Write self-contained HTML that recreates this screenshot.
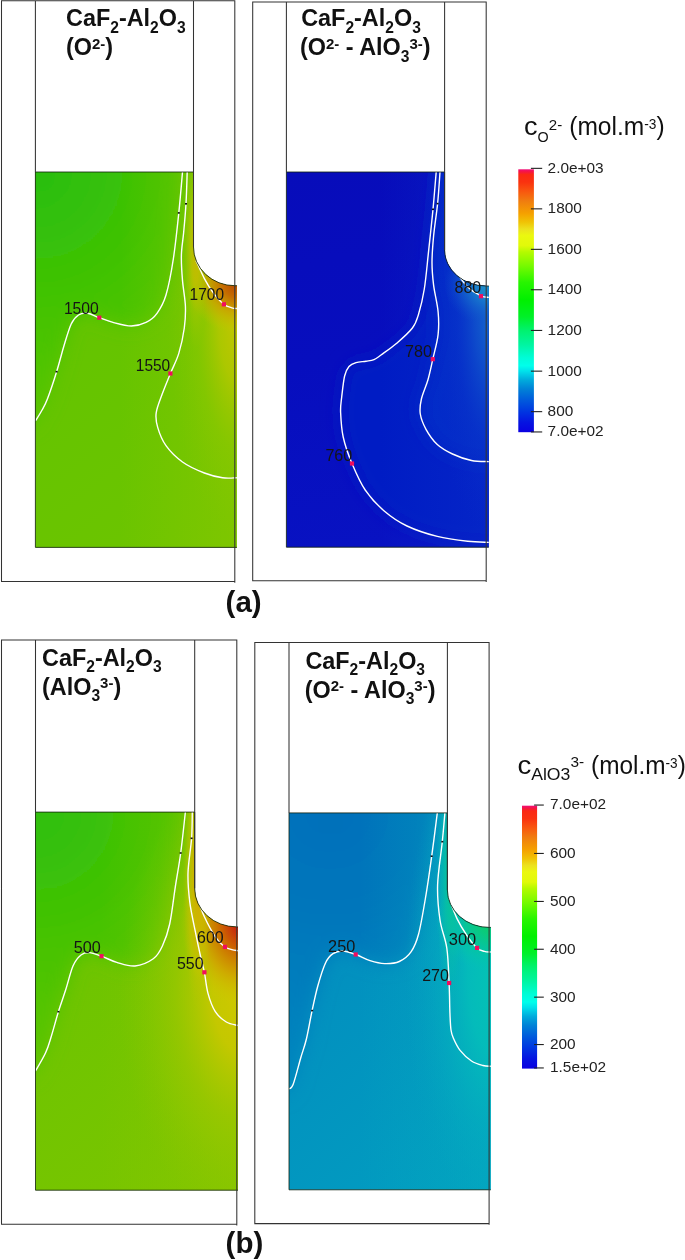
<!DOCTYPE html>
<html><head><meta charset="utf-8"><title>Figure</title>
<style>
html,body{margin:0;padding:0;background:#fff;}
body{width:685px;height:1260px;overflow:hidden;}
svg{display:block;}
text{font-family:"Liberation Sans",sans-serif;}
.tt{font-size:23.4px;font-weight:bold;fill:#111;}
.ab{font-size:29.5px;font-weight:bold;fill:#111;}
.lb{font-size:17px;fill:#151515;}
.cl{font-size:15.4px;fill:#222;}
.ct{font-size:26px;fill:#111;}
</style></head><body>
<svg width="685" height="1260" viewBox="0 0 685 1260">
<defs>
<filter id="bl" x="-30%" y="-30%" width="160%" height="160%"><feGaussianBlur stdDeviation="9"/></filter>
<linearGradient id="a1" gradientUnits="userSpaceOnUse" x1="35.0" y1="300.0" x2="237.0" y2="547.0"><stop offset="0.000" stop-color="#62c400"/><stop offset="1.000" stop-color="#6ec400"/></linearGradient>
<radialGradient id="q1" gradientUnits="userSpaceOnUse" cx="0" cy="0" r="1" gradientTransform="translate(35.0,172.0) scale(300.0,300.0)"><stop offset="0.000" stop-color="#28be12"/><stop offset="0.330" stop-color="#3cc205"/><stop offset="0.660" stop-color="#50c400"/><stop offset="1.000" stop-color="#5cc400"/></radialGradient>
<linearGradient id="c1" gradientUnits="userSpaceOnUse" x1="120.0" y1="0.0" x2="237.0" y2="0.0"><stop offset="0.000" stop-color="#8cc800" stop-opacity="0.00"/><stop offset="1.000" stop-color="#8cc800" stop-opacity="0.55"/></linearGradient>
<radialGradient id="d1" gradientUnits="userSpaceOnUse" cx="0" cy="0" r="1" gradientTransform="translate(240.0,316.0) scale(72.0,225.0)"><stop offset="0.000" stop-color="#cbc600" stop-opacity="0.95"/><stop offset="0.300" stop-color="#bac800" stop-opacity="0.78"/><stop offset="0.600" stop-color="#96c800" stop-opacity="0.38"/><stop offset="1.000" stop-color="#82c600" stop-opacity="0.00"/></radialGradient>
<radialGradient id="e1" gradientUnits="userSpaceOnUse" cx="0" cy="0" r="1" gradientTransform="translate(238.0,283.0) scale(52.0,50.0)"><stop offset="0.000" stop-color="#b64000" stop-opacity="1.00"/><stop offset="0.300" stop-color="#c66900" stop-opacity="0.96"/><stop offset="0.600" stop-color="#cda000" stop-opacity="0.75"/><stop offset="1.000" stop-color="#cdc300" stop-opacity="0.00"/></radialGradient>
<radialGradient id="f1" gradientUnits="userSpaceOnUse" cx="0" cy="0" r="1" gradientTransform="translate(195.5,246.0) scale(13.0,105.0)"><stop offset="0.000" stop-color="#ceb400" stop-opacity="0.95"/><stop offset="0.350" stop-color="#c8c000" stop-opacity="0.70"/><stop offset="0.700" stop-color="#b4c600" stop-opacity="0.30"/><stop offset="1.000" stop-color="#a0c600" stop-opacity="0.00"/></radialGradient>
<linearGradient id="a2" gradientUnits="userSpaceOnUse" x1="286.0" y1="172.0" x2="360.0" y2="547.0"><stop offset="0.000" stop-color="#070cba"/><stop offset="0.500" stop-color="#070ebe"/><stop offset="1.000" stop-color="#0812c2"/></linearGradient>
<linearGradient id="c2" gradientUnits="userSpaceOnUse" x1="380.0" y1="0.0" x2="489.0" y2="0.0"><stop offset="0.000" stop-color="#0a2eca" stop-opacity="0.00"/><stop offset="1.000" stop-color="#0a2eca" stop-opacity="0.50"/></linearGradient>
<radialGradient id="d2" gradientUnits="userSpaceOnUse" cx="0" cy="0" r="1" gradientTransform="translate(492.0,310.0) scale(60.0,230.0)"><stop offset="0.000" stop-color="#166ecd" stop-opacity="1.00"/><stop offset="0.300" stop-color="#1052cc" stop-opacity="0.80"/><stop offset="0.600" stop-color="#0a38ca" stop-opacity="0.40"/><stop offset="1.000" stop-color="#0628c8" stop-opacity="0.00"/></radialGradient>
<radialGradient id="e2" gradientUnits="userSpaceOnUse" cx="0" cy="0" r="1" gradientTransform="translate(490.0,284.0) scale(46.0,42.0)"><stop offset="0.000" stop-color="#1e96c8" stop-opacity="1.00"/><stop offset="0.350" stop-color="#1a82cd" stop-opacity="0.90"/><stop offset="0.650" stop-color="#1464cd" stop-opacity="0.60"/><stop offset="1.000" stop-color="#0e4ccc" stop-opacity="0.00"/></radialGradient>
<linearGradient id="a3" gradientUnits="userSpaceOnUse" x1="35.0" y1="960.0" x2="237.0" y2="1190.0"><stop offset="0.000" stop-color="#6cc400"/><stop offset="1.000" stop-color="#7cc500"/></linearGradient>
<radialGradient id="q3" gradientUnits="userSpaceOnUse" cx="0" cy="0" r="1" gradientTransform="translate(35.0,812.0) scale(300.0,300.0)"><stop offset="0.000" stop-color="#2ebf10"/><stop offset="0.330" stop-color="#40c204"/><stop offset="0.660" stop-color="#54c400"/><stop offset="1.000" stop-color="#62c400"/></radialGradient>
<linearGradient id="c3" gradientUnits="userSpaceOnUse" x1="100.0" y1="0.0" x2="238.0" y2="0.0"><stop offset="0.000" stop-color="#96c700" stop-opacity="0.00"/><stop offset="1.000" stop-color="#96c700" stop-opacity="0.40"/></linearGradient>
<radialGradient id="d3" gradientUnits="userSpaceOnUse" cx="0" cy="0" r="1" gradientTransform="translate(244.0,995.0) scale(125.0,230.0)"><stop offset="0.000" stop-color="#d0c800" stop-opacity="1.00"/><stop offset="0.250" stop-color="#cac800" stop-opacity="0.92"/><stop offset="0.550" stop-color="#acc800" stop-opacity="0.50"/><stop offset="1.000" stop-color="#8cc600" stop-opacity="0.00"/></radialGradient>
<radialGradient id="e3" gradientUnits="userSpaceOnUse" cx="0" cy="0" r="1" gradientTransform="translate(241.0,921.0) scale(60.0,85.0)"><stop offset="0.000" stop-color="#c8102c" stop-opacity="1.00"/><stop offset="0.120" stop-color="#c8280c" stop-opacity="1.00"/><stop offset="0.350" stop-color="#cd6400" stop-opacity="0.97"/><stop offset="0.650" stop-color="#d0a000" stop-opacity="0.80"/><stop offset="1.000" stop-color="#d0c800" stop-opacity="0.00"/></radialGradient>
<radialGradient id="f3" gradientUnits="userSpaceOnUse" cx="0" cy="0" r="1" gradientTransform="translate(198.0,872.0) scale(15.0,140.0)"><stop offset="0.000" stop-color="#d2a000" stop-opacity="0.98"/><stop offset="0.350" stop-color="#d0b600" stop-opacity="0.85"/><stop offset="0.700" stop-color="#c6c400" stop-opacity="0.45"/><stop offset="1.000" stop-color="#b4c600" stop-opacity="0.00"/></radialGradient>
<linearGradient id="a4" gradientUnits="userSpaceOnUse" x1="289.0" y1="960.0" x2="491.0" y2="1190.0"><stop offset="0.000" stop-color="#028ebf"/><stop offset="1.000" stop-color="#029ec0"/></linearGradient>
<radialGradient id="q4" gradientUnits="userSpaceOnUse" cx="0" cy="0" r="1" gradientTransform="translate(330.0,813.0) scale(300.0,300.0)"><stop offset="0.000" stop-color="#0570ba"/><stop offset="0.330" stop-color="#0576bb"/><stop offset="0.660" stop-color="#0480bd"/><stop offset="1.000" stop-color="#0388be"/></radialGradient>
<linearGradient id="c4" gradientUnits="userSpaceOnUse" x1="360.0" y1="0.0" x2="491.0" y2="0.0"><stop offset="0.000" stop-color="#04acbe" stop-opacity="0.00"/><stop offset="1.000" stop-color="#04acbe" stop-opacity="0.50"/></linearGradient>
<radialGradient id="d4" gradientUnits="userSpaceOnUse" cx="0" cy="0" r="1" gradientTransform="translate(495.0,975.0) scale(90.0,260.0)"><stop offset="0.000" stop-color="#04c4b4" stop-opacity="1.00"/><stop offset="0.300" stop-color="#04beba" stop-opacity="0.90"/><stop offset="0.600" stop-color="#04b0be" stop-opacity="0.50"/><stop offset="1.000" stop-color="#04a0c0" stop-opacity="0.00"/></radialGradient>
<radialGradient id="e4" gradientUnits="userSpaceOnUse" cx="0" cy="0" r="1" gradientTransform="translate(494.0,922.0) scale(58.0,50.0)"><stop offset="0.000" stop-color="#0ecc64" stop-opacity="1.00"/><stop offset="0.250" stop-color="#0aca7a" stop-opacity="1.00"/><stop offset="0.500" stop-color="#06c696" stop-opacity="0.92"/><stop offset="0.750" stop-color="#04c4aa" stop-opacity="0.60"/><stop offset="1.000" stop-color="#04c2b4" stop-opacity="0.00"/></radialGradient>
<radialGradient id="f4" gradientUnits="userSpaceOnUse" cx="0" cy="0" r="1" gradientTransform="translate(451.0,872.0) scale(15.0,140.0)"><stop offset="0.000" stop-color="#0ac68c" stop-opacity="0.98"/><stop offset="0.350" stop-color="#06c2a0" stop-opacity="0.85"/><stop offset="0.700" stop-color="#05bcae" stop-opacity="0.45"/><stop offset="1.000" stop-color="#05b0ba" stop-opacity="0.00"/></radialGradient>
<linearGradient id="cb" x1="0" y1="1" x2="0" y2="0"><stop offset="0.000" stop-color="#0a00e1"/><stop offset="0.038" stop-color="#0514e1"/><stop offset="0.080" stop-color="#0037e1"/><stop offset="0.122" stop-color="#005adc"/><stop offset="0.165" stop-color="#0082d7"/><stop offset="0.198" stop-color="#00aadc"/><stop offset="0.232" stop-color="#00e1eb"/><stop offset="0.253" stop-color="#00ffeb"/><stop offset="0.283" stop-color="#00fcd7"/><stop offset="0.334" stop-color="#00f5a0"/><stop offset="0.387" stop-color="#00f26e"/><stop offset="0.439" stop-color="#00f028"/><stop offset="0.503" stop-color="#00f000"/><stop offset="0.570" stop-color="#28f500"/><stop offset="0.634" stop-color="#78fa00"/><stop offset="0.685" stop-color="#b4fa00"/><stop offset="0.710" stop-color="#e1fa0a"/><stop offset="0.748" stop-color="#ebf80f"/><stop offset="0.773" stop-color="#ece11e"/><stop offset="0.799" stop-color="#f0c305"/><stop offset="0.833" stop-color="#f5a000"/><stop offset="0.879" stop-color="#f07d0f"/><stop offset="0.913" stop-color="#f85a0f"/><stop offset="0.951" stop-color="#fa320f"/><stop offset="0.980" stop-color="#fa2814"/><stop offset="0.991" stop-color="#f51446"/><stop offset="1.000" stop-color="#f00f78"/></linearGradient>
</defs>
<rect width="685" height="1260" fill="#fff"/>
<clipPath id="cp1"><path d="M35.4,172.0 L193.5,172.0 L193.5,247.0 A41.3,38.7 0 0 0 234.8,285.7 L236.9,285.7 L236.9,547.4 L35.4,547.4 Z"/></clipPath>
<g clip-path="url(#cp1)">
<rect x="-20.0" y="120.0" width="320.0" height="480.0" fill="url(#a1)"/>
<path d="M182.5,172.0 C181.9,178.8 180.3,198.5 178.8,212.9 C177.3,227.3 175.5,244.8 173.4,258.5 C171.3,272.2 168.7,285.9 166.0,295.0 C163.3,304.1 160.3,308.7 157.0,313.3 C153.7,317.9 150.3,320.3 146.0,322.4 C141.7,324.5 136.9,326.0 131.4,326.0 C125.9,326.0 118.3,323.8 113.0,322.4 C107.7,321.0 103.5,319.2 99.3,317.7 C95.1,316.2 91.1,313.8 87.6,313.3 C84.1,312.9 81.2,313.2 78.5,315.0 C75.8,316.8 73.6,318.8 71.2,324.0 C68.8,329.2 66.3,338.1 63.9,346.0 C61.5,353.9 59.4,362.9 56.6,371.7 C53.9,380.5 49.9,392.4 47.4,399.0 C44.9,405.6 43.5,407.3 41.5,411.0 C39.5,414.7 36.4,419.3 35.4,421.0 L32.4,427.0 L-30.0,427.0 L-30.0,120.0 L182.5,120.0 L182.5,172.0 Z" fill="url(#q1)" filter="url(#bl)"/>
<rect x="30.0" y="165.0" width="215.0" height="390.0" fill="url(#c1)"/>
<rect x="30.0" y="165.0" width="215.0" height="390.0" fill="url(#d1)"/>
<rect x="30.0" y="165.0" width="215.0" height="390.0" fill="url(#e1)"/>
<rect x="170.0" y="165.0" width="40.0" height="200.0" fill="url(#f1)"/>
<path d="M182.5,172.0 C181.9,178.8 180.3,198.5 178.8,212.9 C177.3,227.3 175.5,244.8 173.4,258.5 C171.3,272.2 168.7,285.9 166.0,295.0 C163.3,304.1 160.3,308.7 157.0,313.3 C153.7,317.9 150.3,320.3 146.0,322.4 C141.7,324.5 136.9,326.0 131.4,326.0 C125.9,326.0 118.3,323.8 113.0,322.4 C107.7,321.0 103.5,319.2 99.3,317.7 C95.1,316.2 91.1,313.8 87.6,313.3 C84.1,312.9 81.2,313.2 78.5,315.0 C75.8,316.8 73.6,318.8 71.2,324.0 C68.8,329.2 66.3,338.1 63.9,346.0 C61.5,353.9 59.4,362.9 56.6,371.7 C53.9,380.5 49.9,392.4 47.4,399.0 C44.9,405.6 43.5,407.3 41.5,411.0 C39.5,414.7 36.4,419.3 35.4,421.0" fill="none" stroke="#fff" stroke-width="1.4"/>
<path d="M187.2,172.0 C187.0,177.3 186.6,193.6 186.0,203.8 C185.4,214.0 184.4,224.5 183.6,233.0 C182.8,241.5 181.6,247.1 181.4,255.0 C181.2,262.9 181.8,271.9 182.5,280.4 C183.2,288.9 185.1,298.1 185.4,306.0 C185.7,313.9 185.4,320.1 184.3,328.0 C183.2,335.9 181.1,345.8 178.8,353.4 C176.5,361.0 173.1,366.8 170.4,373.5 C167.7,380.2 164.8,387.1 162.4,393.6 C160.0,400.2 157.0,407.2 156.2,412.8 C155.4,418.4 156.1,421.9 157.7,427.4 C159.3,432.9 161.9,439.9 166.0,445.7 C170.1,451.5 176.1,457.4 182.5,462.0 C188.9,466.6 197.7,470.4 204.4,473.0 C211.1,475.6 217.2,477.0 222.6,477.8 C228.0,478.6 234.6,477.8 237.0,477.8" fill="none" stroke="#fff" stroke-width="1.4"/>
<path d="M196.0,260.4 C197.4,263.4 201.5,273.1 204.4,278.6 C207.3,284.1 210.3,288.9 213.5,293.2 C216.7,297.5 220.6,301.8 223.7,304.2 C226.8,306.6 229.6,307.1 231.8,307.8 C234.1,308.5 236.3,308.4 237.2,308.5" fill="none" stroke="#fff" stroke-width="1.4"/>
<rect x="177.8" y="212.1" width="2" height="1.6" fill="#111"/>
<rect x="185.0" y="203.0" width="2" height="1.6" fill="#111"/>
<rect x="55.6" y="370.9" width="2" height="1.6" fill="#111"/>
</g>
<path d="M236.9,547.4 L35.4,547.4 L35.4,172.0 L193.5,172.0 L193.5,247.0 A41.3,38.7 0 0 0 234.8,285.7 L236.9,285.7" fill="none" stroke="#10200c" stroke-opacity="0.8" stroke-width="1"/>
<path d="M234.8,581.5 L1.5,581.5 L1.5,0.8 L235.3,0.8 M35.4,0.8 L35.4,172.0 M193.5,0.8 L193.5,247.0 M234.8,0.8 L234.8,582.7" fill="none" stroke="#333" stroke-width="1.05"/>
<rect x="97.2" y="315.6" width="4.2" height="4.2" fill="#f20c5e"/>
<rect x="168.3" y="371.4" width="4.2" height="4.2" fill="#f20c5e"/>
<rect x="221.8" y="302.2" width="4.2" height="4.2" fill="#f20c5e"/>
<text x="63.9" y="314.0" textLength="34.9" lengthAdjust="spacingAndGlyphs" class="lb">1500</text>
<text x="135.8" y="371.0" textLength="34.4" lengthAdjust="spacingAndGlyphs" class="lb">1550</text>
<text x="189.6" y="300.3" textLength="34.4" lengthAdjust="spacingAndGlyphs" class="lb">1700</text>
<clipPath id="cp2"><path d="M286.4,172.0 L444.6,172.0 L444.6,250.0 A41.6,36.0 0 0 0 486.2,286.0 L488.8,286.0 L488.8,547.2 L286.4,547.2 Z"/></clipPath>
<g clip-path="url(#cp2)">
<rect x="230.0" y="120.0" width="320.0" height="480.0" fill="url(#a2)"/>
<path d="M436.2,172.0 C435.7,178.2 434.3,195.5 433.0,209.3 C431.7,223.1 429.6,241.6 428.2,254.9 C426.8,268.2 425.9,279.1 424.3,289.0 C422.7,298.9 420.6,307.5 418.6,314.0 C416.6,320.5 416.1,323.1 412.4,328.0 C408.7,332.9 401.6,339.0 396.4,343.5 C391.2,348.0 384.7,352.3 381.0,355.0 C377.3,357.7 376.5,358.6 374.0,359.6 C371.5,360.6 369.0,360.7 366.0,361.2 C363.0,361.7 358.8,361.7 356.0,362.6 C353.2,363.5 350.9,364.3 349.0,366.5 C347.1,368.7 345.8,370.9 344.6,376.0 C343.4,381.1 342.4,391.0 341.7,397.0 C341.0,403.0 340.4,405.3 340.6,412.0 C340.9,418.7 341.3,428.4 343.2,437.0 C345.1,445.6 348.3,454.7 352.0,463.5 C355.7,472.3 359.8,482.1 365.2,490.0 C370.6,497.9 377.2,505.0 384.2,511.0 C391.2,517.0 398.1,521.8 407.0,526.0 C415.9,530.2 427.2,533.9 437.3,536.4 C447.4,538.9 459.1,540.3 467.7,541.3 C476.3,542.3 485.4,542.2 489.0,542.4 L540.0,542.4 L540.0,120.0 L436.2,120.0 Z" fill="#051ec4" filter="url(#bl)"/>
<path d="M440.0,172.0 C439.6,177.3 438.7,192.9 437.6,203.6 C436.5,214.3 434.5,226.2 433.6,236.0 C432.7,245.8 432.0,254.3 432.0,262.5 C432.0,270.7 432.6,277.0 433.6,285.2 C434.6,293.4 437.4,303.6 438.1,311.8 C438.9,320.0 439.0,326.7 438.1,334.6 C437.2,342.5 434.5,351.6 432.8,359.2 C431.1,366.8 429.8,373.4 427.9,380.0 C426.0,386.6 422.7,393.3 421.4,399.0 C420.1,404.7 419.5,408.9 420.3,414.0 C421.1,419.1 423.2,424.2 426.0,429.3 C428.8,434.4 432.9,440.4 437.3,444.5 C441.7,448.6 446.8,451.3 452.5,454.0 C458.2,456.7 465.4,459.2 471.5,460.5 C477.6,461.8 486.1,461.4 489.0,461.6 L540.0,461.6 L540.0,120.0 L440.0,120.0 Z" fill="#032cc8" filter="url(#bl)"/>
<rect x="280.0" y="165.0" width="215.0" height="390.0" fill="url(#c2)"/>
<rect x="280.0" y="165.0" width="215.0" height="390.0" fill="url(#d2)"/>
<rect x="280.0" y="165.0" width="215.0" height="390.0" fill="url(#e2)"/>
<path d="M436.2,172.0 C435.7,178.2 434.3,195.5 433.0,209.3 C431.7,223.1 429.6,241.6 428.2,254.9 C426.8,268.2 425.9,279.1 424.3,289.0 C422.7,298.9 420.6,307.5 418.6,314.0 C416.6,320.5 416.1,323.1 412.4,328.0 C408.7,332.9 401.6,339.0 396.4,343.5 C391.2,348.0 384.7,352.3 381.0,355.0 C377.3,357.7 376.5,358.6 374.0,359.6 C371.5,360.6 369.0,360.7 366.0,361.2 C363.0,361.7 358.8,361.7 356.0,362.6 C353.2,363.5 350.9,364.3 349.0,366.5 C347.1,368.7 345.8,370.9 344.6,376.0 C343.4,381.1 342.4,391.0 341.7,397.0 C341.0,403.0 340.4,405.3 340.6,412.0 C340.9,418.7 341.3,428.4 343.2,437.0 C345.1,445.6 348.3,454.7 352.0,463.5 C355.7,472.3 359.8,482.1 365.2,490.0 C370.6,497.9 377.2,505.0 384.2,511.0 C391.2,517.0 398.1,521.8 407.0,526.0 C415.9,530.2 427.2,533.9 437.3,536.4 C447.4,538.9 459.1,540.3 467.7,541.3 C476.3,542.3 485.4,542.2 489.0,542.4" fill="none" stroke="#fff" stroke-width="1.4"/>
<path d="M440.0,172.0 C439.6,177.3 438.7,192.9 437.6,203.6 C436.5,214.3 434.5,226.2 433.6,236.0 C432.7,245.8 432.0,254.3 432.0,262.5 C432.0,270.7 432.6,277.0 433.6,285.2 C434.6,293.4 437.4,303.6 438.1,311.8 C438.9,320.0 439.0,326.7 438.1,334.6 C437.2,342.5 434.5,351.6 432.8,359.2 C431.1,366.8 429.8,373.4 427.9,380.0 C426.0,386.6 422.7,393.3 421.4,399.0 C420.1,404.7 419.5,408.9 420.3,414.0 C421.1,419.1 423.2,424.2 426.0,429.3 C428.8,434.4 432.9,440.4 437.3,444.5 C441.7,448.6 446.8,451.3 452.5,454.0 C458.2,456.7 465.4,459.2 471.5,460.5 C477.6,461.8 486.1,461.4 489.0,461.6" fill="none" stroke="#fff" stroke-width="1.4"/>
<path d="M456.3,272.0 C458.2,274.5 463.6,283.0 467.7,287.0 C471.8,291.0 477.4,294.2 481.0,295.9 C484.6,297.6 487.7,297.1 489.0,297.4" fill="none" stroke="#fff" stroke-width="1.4"/>
<rect x="432.0" y="208.5" width="2" height="1.6" fill="#111"/>
<rect x="436.6" y="202.8" width="2" height="1.6" fill="#111"/>
</g>
<path d="M488.8,547.2 L286.4,547.2 L286.4,172.0 L444.6,172.0 L444.6,250.0 A41.6,36.0 0 0 0 486.2,286.0 L488.8,286.0" fill="none" stroke="#10200c" stroke-opacity="0.8" stroke-width="1"/>
<path d="M486.2,580.8 L252.7,580.8 L252.7,2.0 L486.7,2.0 M286.4,2.0 L286.4,172.0 M444.6,2.0 L444.6,250.0 M486.2,2.0 L486.2,582.0" fill="none" stroke="#333" stroke-width="1.05"/>
<rect x="349.9" y="461.4" width="4.2" height="4.2" fill="#f20c5e"/>
<rect x="430.7" y="357.1" width="4.2" height="4.2" fill="#f20c5e"/>
<rect x="478.9" y="294.1" width="4.2" height="4.2" fill="#f20c5e"/>
<text x="325.4" y="460.8" textLength="26.9" lengthAdjust="spacingAndGlyphs" class="lb">760</text>
<text x="405.1" y="356.6" textLength="26.9" lengthAdjust="spacingAndGlyphs" class="lb">780</text>
<text x="454.5" y="292.8" textLength="26.8" lengthAdjust="spacingAndGlyphs" class="lb">880</text>
<clipPath id="cp3"><path d="M35.5,812.1 L194.7,812.1 L194.7,888.6 A42.1,38.3 0 0 0 236.8,926.9 L238.0,926.9 L238.0,1190.2 L35.5,1190.2 Z"/></clipPath>
<g clip-path="url(#cp3)">
<rect x="-20.0" y="760.0" width="320.0" height="480.0" fill="url(#a3)"/>
<path d="M185.4,812.0 C184.6,818.8 182.4,840.4 180.7,853.0 C179.0,865.6 177.0,875.8 175.2,887.6 C173.4,899.4 171.8,914.3 169.7,924.0 C167.6,933.7 165.1,940.2 162.4,946.0 C159.7,951.8 157.9,955.5 153.3,958.8 C148.7,962.1 141.1,965.4 135.0,966.0 C128.9,966.6 122.4,964.0 116.8,962.4 C111.2,960.8 106.1,957.8 101.5,956.2 C96.9,954.6 92.8,952.8 89.4,952.6 C86.0,952.4 83.7,952.8 81.0,955.0 C78.3,957.2 75.5,960.2 73.0,966.0 C70.5,971.8 68.1,982.2 65.7,989.8 C63.3,997.4 60.8,1003.8 58.4,1011.7 C56.0,1019.6 53.2,1030.2 51.1,1037.0 C49.0,1043.8 48.2,1047.1 45.6,1052.8 C43.0,1058.5 37.2,1068.0 35.5,1071.0 L32.5,1077.0 L-30.0,1077.0 L-30.0,760.0 L185.4,760.0 L185.4,812.0 Z" fill="url(#q3)" filter="url(#bl)"/>
<rect x="30.0" y="805.0" width="215.0" height="392.0" fill="url(#c3)"/>
<rect x="30.0" y="805.0" width="215.0" height="392.0" fill="url(#d3)"/>
<rect x="30.0" y="805.0" width="215.0" height="392.0" fill="url(#e3)"/>
<rect x="170.0" y="730.0" width="40.0" height="290.0" fill="url(#f3)"/>
<path d="M185.4,812.0 C184.6,818.8 182.4,840.4 180.7,853.0 C179.0,865.6 177.0,875.8 175.2,887.6 C173.4,899.4 171.8,914.3 169.7,924.0 C167.6,933.7 165.1,940.2 162.4,946.0 C159.7,951.8 157.9,955.5 153.3,958.8 C148.7,962.1 141.1,965.4 135.0,966.0 C128.9,966.6 122.4,964.0 116.8,962.4 C111.2,960.8 106.1,957.8 101.5,956.2 C96.9,954.6 92.8,952.8 89.4,952.6 C86.0,952.4 83.7,952.8 81.0,955.0 C78.3,957.2 75.5,960.2 73.0,966.0 C70.5,971.8 68.1,982.2 65.7,989.8 C63.3,997.4 60.8,1003.8 58.4,1011.7 C56.0,1019.6 53.2,1030.2 51.1,1037.0 C49.0,1043.8 48.2,1047.1 45.6,1052.8 C43.0,1058.5 37.2,1068.0 35.5,1071.0" fill="none" stroke="#fff" stroke-width="1.4"/>
<path d="M192.3,812.0 C192.2,816.4 192.3,828.1 191.6,838.3 C190.9,848.5 188.3,862.4 188.0,873.0 C187.7,883.6 188.6,892.5 189.8,902.2 C191.0,911.9 193.5,922.3 195.3,931.4 C197.1,940.5 199.2,950.2 200.7,957.0 C202.2,963.8 203.2,966.2 204.4,972.3 C205.6,978.4 206.2,986.8 208.0,993.4 C209.8,1000.0 212.2,1006.9 215.3,1011.7 C218.4,1016.5 222.5,1019.7 226.3,1022.0 C230.1,1024.3 236.1,1024.9 238.0,1025.5" fill="none" stroke="#fff" stroke-width="1.4"/>
<path d="M197.0,896.7 C198.2,900.1 201.3,910.1 204.4,916.8 C207.5,923.5 212.0,931.9 215.3,936.9 C218.7,941.9 221.8,944.6 224.5,946.7 C227.2,948.8 229.6,948.9 231.8,949.6 C234.1,950.3 237.0,950.5 238.0,950.7" fill="none" stroke="#fff" stroke-width="1.4"/>
<rect x="179.7" y="852.2" width="2" height="1.6" fill="#111"/>
<rect x="190.6" y="837.5" width="2" height="1.6" fill="#111"/>
<rect x="57.4" y="1010.9" width="2" height="1.6" fill="#111"/>
</g>
<path d="M238.0,1190.2 L35.5,1190.2 L35.5,812.1 L194.7,812.1 L194.7,888.6 A42.1,38.3 0 0 0 236.8,926.9 L238.0,926.9" fill="none" stroke="#10200c" stroke-opacity="0.8" stroke-width="1"/>
<path d="M236.8,1224.3 L1.5,1224.3 L1.5,640.0 L237.3,640.0 M35.5,640.0 L35.5,812.1 M194.7,640.0 L194.7,888.6 M236.8,640.0 L236.8,1225.5" fill="none" stroke="#333" stroke-width="1.05"/>
<rect x="99.4" y="954.1" width="4.2" height="4.2" fill="#f20c5e"/>
<rect x="202.3" y="970.2" width="4.2" height="4.2" fill="#f20c5e"/>
<rect x="222.9" y="944.8" width="4.2" height="4.2" fill="#f20c5e"/>
<text x="73.7" y="952.6" textLength="27.0" lengthAdjust="spacingAndGlyphs" class="lb">500</text>
<text x="197.1" y="943.4" textLength="26.6" lengthAdjust="spacingAndGlyphs" class="lb">600</text>
<text x="177.0" y="969.0" textLength="26.6" lengthAdjust="spacingAndGlyphs" class="lb">550</text>
<clipPath id="cp4"><path d="M289.0,812.9 L447.4,812.9 L447.4,890.0 A41.7,37.4 0 0 0 489.1,927.4 L490.8,927.4 L490.8,1189.8 L289.0,1189.8 Z"/></clipPath>
<g clip-path="url(#cp4)">
<rect x="230.0" y="760.0" width="320.0" height="480.0" fill="url(#a4)"/>
<path d="M437.3,813.0 C436.4,820.2 433.6,842.6 431.7,856.2 C429.8,869.9 428.2,881.9 426.0,894.9 C423.8,907.9 421.1,924.5 418.6,934.0 C416.1,943.5 414.2,947.3 411.0,951.9 C407.8,956.5 403.7,959.5 399.3,961.5 C394.9,963.5 389.6,963.7 384.7,963.6 C379.8,963.5 374.8,962.2 370.0,960.7 C365.2,959.2 360.3,956.1 355.7,954.5 C351.1,952.9 346.3,951.1 342.5,951.0 C338.7,950.9 335.9,951.7 333.0,953.7 C330.1,955.7 327.9,957.8 325.4,963.2 C322.9,968.6 320.0,978.1 317.8,986.0 C315.6,993.9 314.0,1001.8 312.1,1010.6 C310.2,1019.4 308.3,1031.1 306.4,1039.0 C304.5,1046.9 302.9,1050.4 300.7,1058.0 C298.5,1065.6 295.1,1079.3 293.1,1084.5 C291.1,1089.7 289.4,1088.2 288.6,1089.0 L285.6,1095.0 L225.0,1095.0 L225.0,760.0 L437.3,760.0 L437.3,813.0 Z" fill="url(#q4)" filter="url(#bl)"/>
<rect x="283.0" y="805.0" width="215.0" height="392.0" fill="url(#c4)"/>
<rect x="283.0" y="805.0" width="215.0" height="392.0" fill="url(#d4)"/>
<rect x="283.0" y="805.0" width="215.0" height="392.0" fill="url(#e4)"/>
<rect x="425.0" y="730.0" width="40.0" height="290.0" fill="url(#f4)"/>
<path d="M437.3,813.0 C436.4,820.2 433.6,842.6 431.7,856.2 C429.8,869.9 428.2,881.9 426.0,894.9 C423.8,907.9 421.1,924.5 418.6,934.0 C416.1,943.5 414.2,947.3 411.0,951.9 C407.8,956.5 403.7,959.5 399.3,961.5 C394.9,963.5 389.6,963.7 384.7,963.6 C379.8,963.5 374.8,962.2 370.0,960.7 C365.2,959.2 360.3,956.1 355.7,954.5 C351.1,952.9 346.3,951.1 342.5,951.0 C338.7,950.9 335.9,951.7 333.0,953.7 C330.1,955.7 327.9,957.8 325.4,963.2 C322.9,968.6 320.0,978.1 317.8,986.0 C315.6,993.9 314.0,1001.8 312.1,1010.6 C310.2,1019.4 308.3,1031.1 306.4,1039.0 C304.5,1046.9 302.9,1050.4 300.7,1058.0 C298.5,1065.6 295.1,1079.3 293.1,1084.5 C291.1,1089.7 289.4,1088.2 288.6,1089.0" fill="none" stroke="#fff" stroke-width="1.4"/>
<path d="M444.9,813.0 C444.5,817.8 443.5,829.7 442.3,841.7 C441.1,853.7 438.0,872.0 437.6,885.0 C437.2,898.0 438.5,909.5 440.0,920.0 C441.5,930.5 445.3,937.5 446.8,948.0 C448.3,958.5 448.6,972.2 449.1,983.0 C449.6,993.8 449.6,1004.7 449.9,1012.5 C450.2,1020.3 450.4,1025.8 451.0,1030.0 C451.6,1034.2 451.8,1034.6 453.3,1038.0 C454.8,1041.4 457.1,1046.6 460.1,1050.4 C463.1,1054.2 467.7,1058.5 471.5,1061.0 C475.3,1063.5 479.6,1064.6 482.9,1065.5 C486.1,1066.4 489.6,1066.2 491.0,1066.3" fill="none" stroke="#fff" stroke-width="1.4"/>
<path d="M448.6,897.0 C450.0,900.6 453.9,912.1 457.0,918.6 C460.1,925.1 463.7,930.8 467.0,935.7 C470.3,940.6 474.1,945.4 477.0,948.0 C479.9,950.6 482.0,950.7 484.3,951.4 C486.6,952.1 489.9,951.9 491.0,952.0" fill="none" stroke="#fff" stroke-width="1.4"/>
<rect x="430.7" y="855.4" width="2" height="1.6" fill="#111"/>
<rect x="441.3" y="840.9" width="2" height="1.6" fill="#111"/>
<rect x="311.1" y="1009.8" width="2" height="1.6" fill="#111"/>
</g>
<path d="M490.8,1189.8 L289.0,1189.8 L289.0,812.9 L447.4,812.9 L447.4,890.0 A41.7,37.4 0 0 0 489.1,927.4 L490.8,927.4" fill="none" stroke="#10200c" stroke-opacity="0.8" stroke-width="1"/>
<path d="M489.1,1223.6 L254.8,1223.6 L254.8,642.4 L489.6,642.4 M289.0,642.4 L289.0,812.9 M447.4,642.4 L447.4,890.0 M489.1,642.4 L489.1,1224.8" fill="none" stroke="#333" stroke-width="1.05"/>
<rect x="353.6" y="952.4" width="4.2" height="4.2" fill="#f20c5e"/>
<rect x="447.0" y="980.9" width="4.2" height="4.2" fill="#f20c5e"/>
<rect x="475.0" y="945.8" width="4.2" height="4.2" fill="#f20c5e"/>
<text x="328.1" y="951.8" textLength="27.2" lengthAdjust="spacingAndGlyphs" class="lb">250</text>
<text x="448.8" y="945.0" textLength="27.4" lengthAdjust="spacingAndGlyphs" class="lb">300</text>
<text x="422.2" y="980.6" textLength="26.8" lengthAdjust="spacingAndGlyphs" class="lb">270</text>
<rect x="518.3" y="169.3" width="15.6" height="262.9" fill="url(#cb)"/>
<rect x="530.9" y="167.8" width="11.3" height="1.1" fill="#222"/>
<text x="547.6" y="172.8" class="cl">2.0e+03</text>
<rect x="530.9" y="208.3" width="11.3" height="1.1" fill="#222"/>
<text x="547.6" y="213.3" class="cl">1800</text>
<rect x="530.9" y="248.8" width="11.3" height="1.1" fill="#222"/>
<text x="547.6" y="253.8" class="cl">1600</text>
<rect x="530.9" y="289.2" width="11.3" height="1.1" fill="#222"/>
<text x="547.6" y="294.2" class="cl">1400</text>
<rect x="530.9" y="329.9" width="11.3" height="1.1" fill="#222"/>
<text x="547.6" y="334.9" class="cl">1200</text>
<rect x="530.9" y="370.6" width="11.3" height="1.1" fill="#222"/>
<text x="547.6" y="375.5" class="cl">1000</text>
<rect x="530.9" y="411.1" width="11.3" height="1.1" fill="#222"/>
<text x="547.6" y="416.0" class="cl">800</text>
<rect x="530.9" y="431.4" width="11.3" height="1.1" fill="#222"/>
<text x="547.6" y="436.4" class="cl">7.0e+02</text>
<rect x="522.0" y="805.7" width="15.1" height="262.9" fill="url(#cb)"/>
<rect x="534.1" y="804.5" width="9.7" height="1.1" fill="#222"/>
<text x="550.0" y="809.4" class="cl">7.0e+02</text>
<rect x="534.1" y="852.9" width="9.7" height="1.1" fill="#222"/>
<text x="550.0" y="857.8" class="cl">600</text>
<rect x="534.1" y="900.9" width="9.7" height="1.1" fill="#222"/>
<text x="550.0" y="905.8" class="cl">500</text>
<rect x="534.1" y="948.7" width="9.7" height="1.1" fill="#222"/>
<text x="550.0" y="953.6" class="cl">400</text>
<rect x="534.1" y="996.6" width="9.7" height="1.1" fill="#222"/>
<text x="550.0" y="1001.5" class="cl">300</text>
<rect x="534.1" y="1044.0" width="9.7" height="1.1" fill="#222"/>
<text x="550.0" y="1048.9" class="cl">200</text>
<rect x="534.1" y="1067.4" width="9.7" height="1.1" fill="#222"/>
<text x="550.0" y="1072.3" class="cl">1.5e+02</text>
<text x="66.0" y="26.3" class="tt">CaF<tspan dy="6.2" font-size="15.6">2</tspan><tspan dy="-6.2">-Al</tspan><tspan dy="6.2" font-size="15.6">2</tspan><tspan dy="-6.2">O</tspan><tspan dy="6.2" font-size="15.6">3</tspan></text>
<text x="66.0" y="55.3" class="tt">(O<tspan dy="-6.8" font-size="15.0">2-</tspan><tspan dy="6.8">)</tspan></text>
<text x="301.2" y="26.4" class="tt">CaF<tspan dy="6.2" font-size="15.6">2</tspan><tspan dy="-6.2">-Al</tspan><tspan dy="6.2" font-size="15.6">2</tspan><tspan dy="-6.2">O</tspan><tspan dy="6.2" font-size="15.6">3</tspan></text>
<text x="299.9" y="55.4" class="tt">(O<tspan dy="-6.8" font-size="15.0">2-</tspan><tspan dy="6.8"> - AlO</tspan><tspan dy="6.2" font-size="15.6">3</tspan><tspan dy="-13.0" font-size="15.0">3-</tspan><tspan dy="6.8">)</tspan></text>
<text x="42.0" y="665.5" class="tt">CaF<tspan dy="6.2" font-size="15.6">2</tspan><tspan dy="-6.2">-Al</tspan><tspan dy="6.2" font-size="15.6">2</tspan><tspan dy="-6.2">O</tspan><tspan dy="6.2" font-size="15.6">3</tspan></text>
<text x="42.0" y="694.5" class="tt">(AlO<tspan dy="6.2" font-size="15.6">3</tspan><tspan dy="-13.0" font-size="15.0">3-</tspan><tspan dy="6.8">)</tspan></text>
<text x="305.4" y="669.2" class="tt">CaF<tspan dy="6.2" font-size="15.6">2</tspan><tspan dy="-6.2">-Al</tspan><tspan dy="6.2" font-size="15.6">2</tspan><tspan dy="-6.2">O</tspan><tspan dy="6.2" font-size="15.6">3</tspan></text>
<text x="304.8" y="698.2" class="tt">(O<tspan dy="-6.8" font-size="15.0">2-</tspan><tspan dy="6.8"> - AlO</tspan><tspan dy="6.2" font-size="15.6">3</tspan><tspan dy="-13.0" font-size="15.0">3-</tspan><tspan dy="6.8">)</tspan></text>
<text x="225.6" y="611.8" class="ab">(a)</text>
<text x="225.6" y="1253" class="ab">(b)</text>
<text transform="translate(524.1,135.2) scale(1.040,1)" class="ct">c<tspan dy="6.4" font-size="13.8">O</tspan><tspan dy="-12.0" font-size="14.5">2-</tspan></text>
<text transform="translate(569.2,135.2) scale(0.945,1)" class="ct">(mol.m<tspan dy="-5.8" font-size="14.5">-3</tspan><tspan dy="5.8">)</tspan></text>
<text transform="translate(517.4,774.2) scale(1.062,1)" class="ct">c<tspan dy="6.2" font-size="16.6">AlO3</tspan><tspan dy="-13.6" font-size="14.5">3-</tspan></text>
<text transform="translate(591.1,774.2) scale(0.938,1)" class="ct">(mol.m<tspan dy="-5.8" font-size="14.5">-3</tspan><tspan dy="5.8">)</tspan></text>
</svg>
</body></html>
